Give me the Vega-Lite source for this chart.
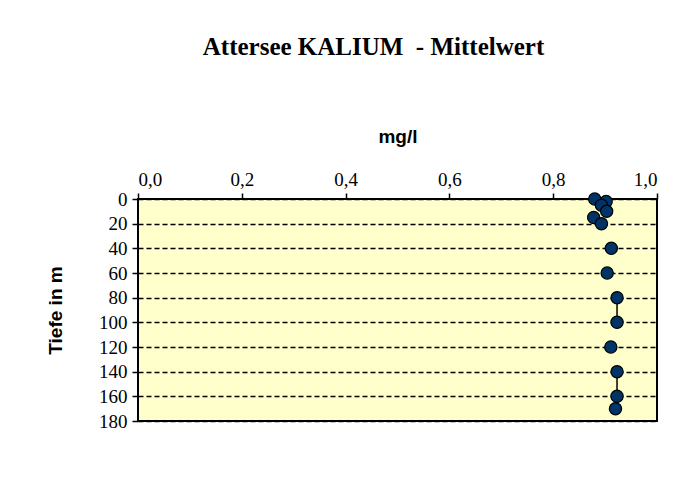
{
  "$schema": "https://vega.github.io/schema/vega-lite/v6.json",
  "width": 519,
  "height": 222,
  "autosize": {"type": "none"},
  "padding": {"left": 138, "top": 199, "right": 30, "bottom": 83},
  "background": "white",
  "title": {
    "text": "Attersee KALIUM \u00a0- Mittelwert",
    "font": "Liberation Serif",
    "fontSize": 25,
    "fontWeight": "bold",
    "color": "black",
    "anchor": "middle",
    "frame": "group",
    "dx": -24,
    "offset": 67
  },
  "config": {
    "view": {"stroke": "black", "strokeWidth": 2, "fill": "#FFFFCC"},
    "axis": {
      "labelFont": "Liberation Serif",
      "labelFontSize": 19,
      "labelColor": "black",
      "titleFont": "Liberation Sans",
      "titleFontSize": 19,
      "titleFontWeight": "bold",
      "titleColor": "black",
      "domain": false,
      "tickColor": "black",
      "tickWidth": 1.5,
      "tickSize": 6
    }
  },
  "data": {
    "values": [
      {"tiefe": 0, "kalium": 0.880, "seg": null},
      {"tiefe": 2, "kalium": 0.902, "seg": null},
      {"tiefe": 5, "kalium": 0.893, "seg": null},
      {"tiefe": 10, "kalium": 0.903, "seg": null},
      {"tiefe": 15, "kalium": 0.878, "seg": null},
      {"tiefe": 20, "kalium": 0.893, "seg": null},
      {"tiefe": 40, "kalium": 0.912, "seg": null},
      {"tiefe": 60, "kalium": 0.904, "seg": null},
      {"tiefe": 80, "kalium": 0.923, "seg": "a"},
      {"tiefe": 100, "kalium": 0.923, "seg": "a"},
      {"tiefe": 120, "kalium": 0.911, "seg": null},
      {"tiefe": 140, "kalium": 0.923, "seg": "b"},
      {"tiefe": 160, "kalium": 0.923, "seg": "b"},
      {"tiefe": 170, "kalium": 0.920, "seg": null}
    ]
  },
  "encoding": {
    "x": {
      "field": "kalium",
      "type": "quantitative",
      "scale": {"domain": [0, 1], "nice": false, "zero": false},
      "axis": {
        "orient": "top",
        "title": "mg/l",
        "values": [0, 0.2, 0.4, 0.6, 0.8, 1.0],
        "labelExpr": "replace(format(datum.value, '.1f'), '.', ',')",
        "grid": false,
        "labelPadding": 4,
        "titlePadding": 24
      }
    },
    "y": {
      "field": "tiefe",
      "type": "quantitative",
      "scale": {"domain": [0, 180], "reverse": true, "nice": false},
      "axis": {
        "title": "Tiefe in m",
        "values": [0, 20, 40, 60, 80, 100, 120, 140, 160, 180],
        "grid": true,
        "gridColor": "black",
        "gridDash": [5, 3],
        "gridWidth": 1.3,
        "labelPadding": 5,
        "titlePadding": 33
      }
    }
  },
  "layer": [
    {
      "transform": [{"filter": "isValid(datum.seg)"}],
      "mark": {"type": "line", "color": "black", "strokeWidth": 1.5},
      "encoding": {"detail": {"field": "seg"}, "order": {"field": "tiefe"}}
    },
    {
      "mark": {"type": "point", "shape": "circle", "filled": true, "fill": "#003366", "stroke": "black", "strokeWidth": 1.2, "size": 150, "opacity": 1}
    }
  ]
}
